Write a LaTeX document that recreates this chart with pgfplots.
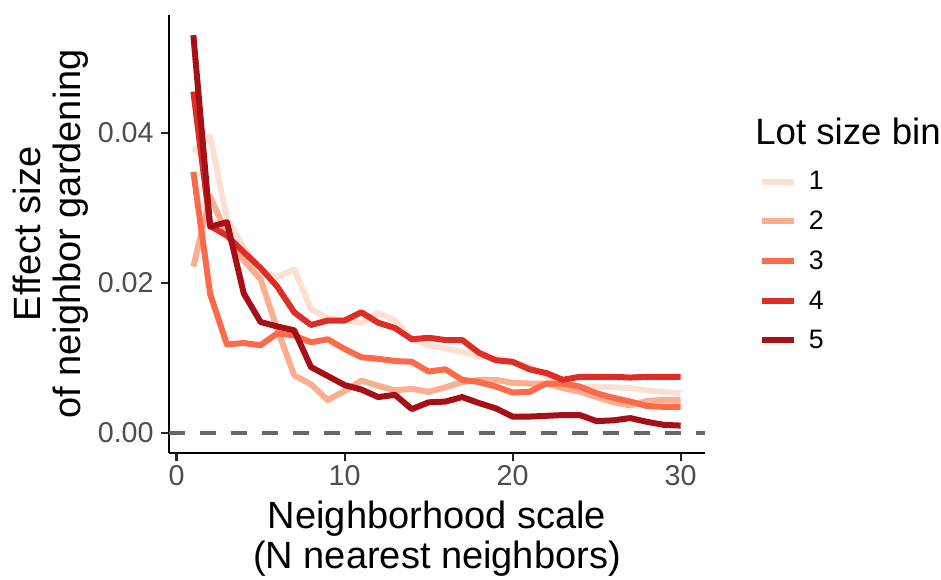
\documentclass[border=0pt]{standalone}
\usepackage{pgfplots}
\pgfplotsset{compat=1.18}
\usepackage{fontspec}
\setmainfont{Liberation Sans}
\definecolor{c1}{HTML}{FEE0D2}
\definecolor{c2}{HTML}{FCAE91}
\definecolor{c3}{HTML}{FB6A4A}
\definecolor{c4}{HTML}{DE2D26}
\definecolor{c5}{HTML}{A50F15}
\definecolor{tickgray}{HTML}{4D4D4D}
\begin{document}
\begin{tikzpicture}
\useasboundingbox (0,0) rectangle (705.75pt,435pt);
\begin{axis}[
  scale only axis,
  width=402pt, height=328.5pt,
  at={(126.75pt,95.25pt)}, anchor=south west,
  xmin=-0.45, xmax=31.45, ymin=-0.00265, ymax=0.0557,
  axis x line*=bottom, axis y line*=left,
  axis line style={line width=2pt, black},
  xtick={0,10,20,30}, ytick={0,0.02,0.04},
  tick align=outside, major tick length=6pt,
  tick style={line width=1.6pt, black!85},
  minor tick num=0,
  /pgf/number format/assume math mode=true,
  yticklabel style={/pgf/number format/fixed, /pgf/number format/fixed zerofill, /pgf/number format/precision=2, xshift=-2pt},
  scaled y ticks=false,
  ticklabel style={font=\fontsize{21.5}{21.5}\selectfont, text=tickgray},
  xlabel={Neighborhood scale\\(N nearest neighbors)},
  ylabel={Effect size\\of neighbor gardening},
  label style={font=\fontsize{28.5}{30}\selectfont, align=center, inner sep=0pt},
  xlabel style={at={(axis description cs:0.5,-0.108)}, anchor=north},
  ylabel style={at={(axis description cs:-0.149,0.5)}, anchor=south},
  legend style={at={(axis description cs:1.1007,0.6427)}, anchor=north west, draw=none, fill=none, inner sep=0pt, outer sep=0pt, row sep=14.4pt, column sep=9pt, font=\fontsize{20}{20}\selectfont, nodes={inner sep=0pt}},
  legend cell align=left,
  legend image code/.code={\draw[#1] (0pt,0pt) -- (24pt,0pt);},
  every axis plot/.append style={line width=4.5pt, line join=round},
]
\addplot[forget plot, color=black!60, line width=2.6pt, dash pattern=on 12pt off 11.25pt] coordinates {(-0.45,0) (31.45,0)};
\addplot[c1] coordinates {
(1,0.0375) (2,0.0395) (3,0.0285) (4,0.0248) (5,0.0215) (6,0.0208) (7,0.0218) (8,0.0165) (9,0.0153) (10,0.0150)
(11,0.0147) (12,0.0160) (13,0.0150) (14,0.0125) (15,0.0117) (16,0.0113) (17,0.0108) (18,0.0102) (19,0.0100) (20,0.0094)
(21,0.0088) (22,0.0076) (23,0.0067) (24,0.0061) (25,0.0062) (26,0.0061) (27,0.0060) (28,0.0057) (29,0.0055) (30,0.0053)};
\addlegendentry{1}
\addplot[c2] coordinates {
(1,0.0222) (2,0.0315) (3,0.0265) (4,0.0230) (5,0.0205) (6,0.0138) (7,0.0077) (8,0.0065) (9,0.0044) (10,0.0056)
(11,0.0070) (12,0.0063) (13,0.0057) (14,0.0059) (15,0.0055) (16,0.0061) (17,0.0068) (18,0.0071) (19,0.0071) (20,0.0067)
(21,0.0066) (22,0.0066) (23,0.0060) (24,0.0055) (25,0.0048) (26,0.0041) (27,0.0037) (28,0.0043) (29,0.0044) (30,0.0044)};
\addlegendentry{2}
\addplot[c3] coordinates {
(1,0.0348) (2,0.0185) (3,0.0118) (4,0.0120) (5,0.0117) (6,0.0133) (7,0.0130) (8,0.0121) (9,0.0125) (10,0.0112)
(11,0.0101) (12,0.0099) (13,0.0096) (14,0.0095) (15,0.0082) (16,0.0085) (17,0.0071) (18,0.0068) (19,0.0062) (20,0.0054)
(21,0.0055) (22,0.0066) (23,0.0066) (24,0.0062) (25,0.0053) (26,0.0047) (27,0.0042) (28,0.0036) (29,0.0035) (30,0.0035)};
\addlegendentry{3}
\addplot[c4] coordinates {
(1,0.0455) (2,0.0276) (3,0.0263) (4,0.0241) (5,0.0220) (6,0.0195) (7,0.0161) (8,0.0144) (9,0.0150) (10,0.0150)
(11,0.0161) (12,0.0147) (13,0.0140) (14,0.0125) (15,0.0127) (16,0.0124) (17,0.0124) (18,0.0107) (19,0.0097) (20,0.0095)
(21,0.0085) (22,0.0080) (23,0.0071) (24,0.0075) (25,0.0075) (26,0.0075) (27,0.0074) (28,0.0075) (29,0.0075) (30,0.0075)};
\addlegendentry{4}
\addplot[c5] coordinates {
(1,0.0530) (2,0.0275) (3,0.0281) (4,0.0186) (5,0.0148) (6,0.0142) (7,0.0137) (8,0.0088) (9,0.0076) (10,0.0064)
(11,0.0058) (12,0.0048) (13,0.0051) (14,0.0032) (15,0.0041) (16,0.0042) (17,0.0048) (18,0.0040) (19,0.0033) (20,0.0022)
(21,0.0022) (22,0.0023) (23,0.0024) (24,0.0024) (25,0.0016) (26,0.0017) (27,0.0020) (28,0.0015) (29,0.0011) (30,0.0010)};
\addlegendentry{5}
\end{axis}
\node[anchor=base west, inner sep=0pt, font=\fontsize{27.5}{27.5}\selectfont] at (566.25pt,326.25pt) {Lot size bin};
\end{tikzpicture}
\end{document}
